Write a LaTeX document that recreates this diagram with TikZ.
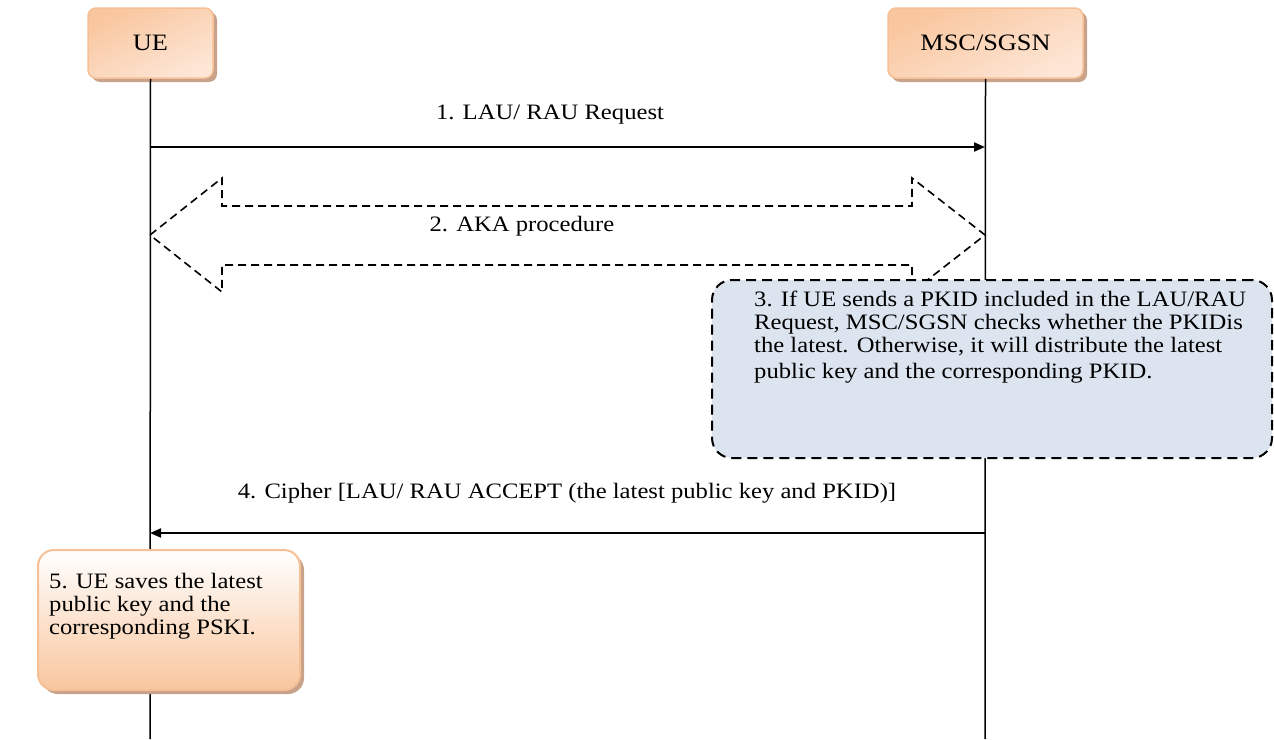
\documentclass[tikz,border=0pt]{standalone}
\usepackage{fontspec}
\setmainfont{Liberation Serif}[FakeStretch=1.12]
\usetikzlibrary{arrows.meta,shadows,positioning}

\definecolor{peachdark}{RGB}{249,198,158}
\definecolor{peachlight}{RGB}{253,230,214}
\definecolor{peachline}{RGB}{246,192,150}
\definecolor{shadowbrown}{RGB}{200,162,138}
\definecolor{noteblue}{RGB}{220,228,240}

\begin{document}
\begin{tikzpicture}
  [x=1pt, y=-1pt,
   every node/.style={font=\fontsize{22pt}{23pt}\selectfont, inner sep=0pt},
   entity/.style={rectangle, rounded corners=8pt, draw=peachline, line width=1.5pt,
      top color=peachdark, bottom color=peachlight, shading angle=25,
      drop shadow={shadow xshift=4pt, shadow yshift=-4pt, fill=shadowbrown, opacity=1},
      minimum height=70pt, font=\fontsize{23.5pt}{24pt}\selectfont},
   lifeline/.style={line width=1.5pt},
   msg/.style={line width=2pt, -{Triangle[length=11pt,width=9pt]}},
   proc/.style={line width=1.6pt, dash pattern=on 8pt off 5pt},
   note/.style={rectangle, rounded corners=20pt, draw, line width=2pt,
      dash pattern=on 10pt off 6pt, fill=noteblue},
   savebox/.style={rectangle, rounded corners=16pt, draw=peachline, line width=2pt,
      top color=white, bottom color=peachdark,
      drop shadow={shadow xshift=4pt, shadow yshift=-4pt, fill=shadowbrown, opacity=1}}]
  \useasboundingbox (0,0) rectangle (1274,739);

  \node[entity, minimum width=125pt] (ue) at (150.5,43) {UE};
  \node[entity, minimum width=195pt] (msc) at (985.5,43) {MSC/SGSN};
  \coordinate (uebot) at (150,739);
  \coordinate (mscbot) at (985,739);
  \draw[lifeline] (ue.south) -- (uebot);
  \draw[lifeline] (msc.south) -- (mscbot);

  \coordinate (ue1) at (150,147);
  \coordinate (msc1) at (985,147);
  \node (m1) at (550,115) {1. LAU/ RAU Request};
  \draw[msg] (ue1) -- (msc1);

  \coordinate (ue2) at (150,235);
  \coordinate (msc2) at (985,235);
  \draw[proc] (ue2) -- ++(72,-57) -- ++(0,28) -- ++(690,0) -- ++(0,-28)
     -- (msc2) -- ++(-73,57) -- ++(0,-27) -- ++(-690,0) -- ++(0,27) -- cycle;
  \node (m2) at (522,226) {2. AKA procedure};

  \node[note, minimum width=560pt, minimum height=178pt] (chk) at (992,369) {};
  \node[anchor=north west, align=left] (chktxt) at ([xshift=43pt, yshift=-12pt]chk.north west)
     {3. If UE sends a PKID included in the LAU/RAU\\
      Request, MSC/SGSN checks whether the PKIDis\\
      the latest. Otherwise, it will distribute the latest\\[3pt]
      public key and the corresponding PKID.};

  \coordinate (ue4) at (150,533);
  \coordinate (msc4) at (985,533);
  \node (m4) at (567,493) {4. Cipher [LAU/ RAU ACCEPT (the latest public key and PKID)]};
  \draw[msg] (msc4) -- (ue4);

  \node[savebox, minimum width=262pt, minimum height=140pt] (sv) at (169,620) {};
  \node[anchor=north west, align=left] (svtxt) at ([xshift=12pt, yshift=-24pt]sv.north west)
     {5. UE saves the latest\\
      public key and the\\
      corresponding PSKI.};
\end{tikzpicture}
\end{document}
